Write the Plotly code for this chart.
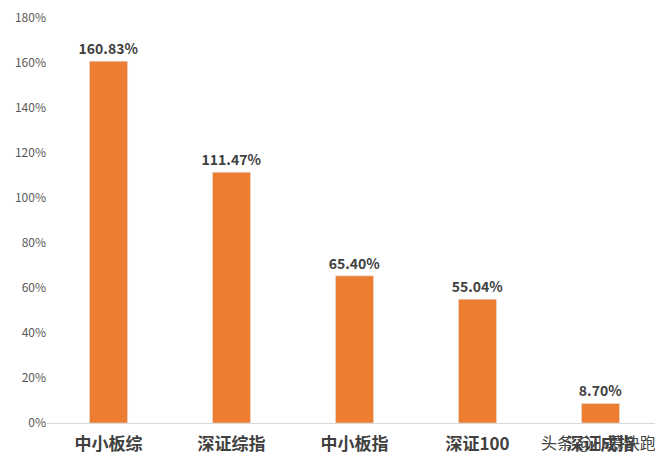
import plotly.graph_objects as go

categories = ["中小板综", "深证综指", "中小板指", "深证100", "深证成指"]
values = [160.83, 111.47, 65.40, 55.04, 8.70]
labels = ["<b>160.83%</b>", "<b>111.47%</b>", "<b>65.40%</b>", "<b>55.04%</b>", "<b>8.70%</b>"]

fig = go.Figure(go.Bar(
    x=categories, y=values, marker_color="#ED7D31",
    text=labels, textposition="outside", cliponaxis=False, constraintext="none",
    textfont=dict(size=14, color="#404040", family="Noto Sans CJK SC"),
))
fig.update_layout(
    width=663, height=458, margin=dict(l=39, r=9, t=10, b=43, autoexpand=False),
    plot_bgcolor="white", paper_bgcolor="white", bargap=0.69,
    showlegend=False, font=dict(family="Noto Sans CJK SC"),
)
fig.update_yaxes(range=[0, 180], dtick=20, ticksuffix="%", showgrid=False,
                 zeroline=False, automargin=False, tickfont=dict(size=12, color="#595959"))
fig.update_xaxes(showline=True, linecolor="#D9D9D9", linewidth=1, automargin=False,
                 ticks="outside", ticklen=6, tickcolor="rgba(0,0,0,0)",
                 tickvals=categories, ticktext=["<b>%s</b>" % c for c in categories],
                 tickfont=dict(size=17, color="#404040", family="Noto Sans CJK SC"))
fig.add_annotation(text="头条 @小慕快跑", x=1, y=0, xref="paper", yref="paper",
                   xanchor="right", yanchor="middle", xshift=-4, yshift=-19, showarrow=False,
                   font=dict(size=16, color="#444444"))
fig.write_html("out.html")
